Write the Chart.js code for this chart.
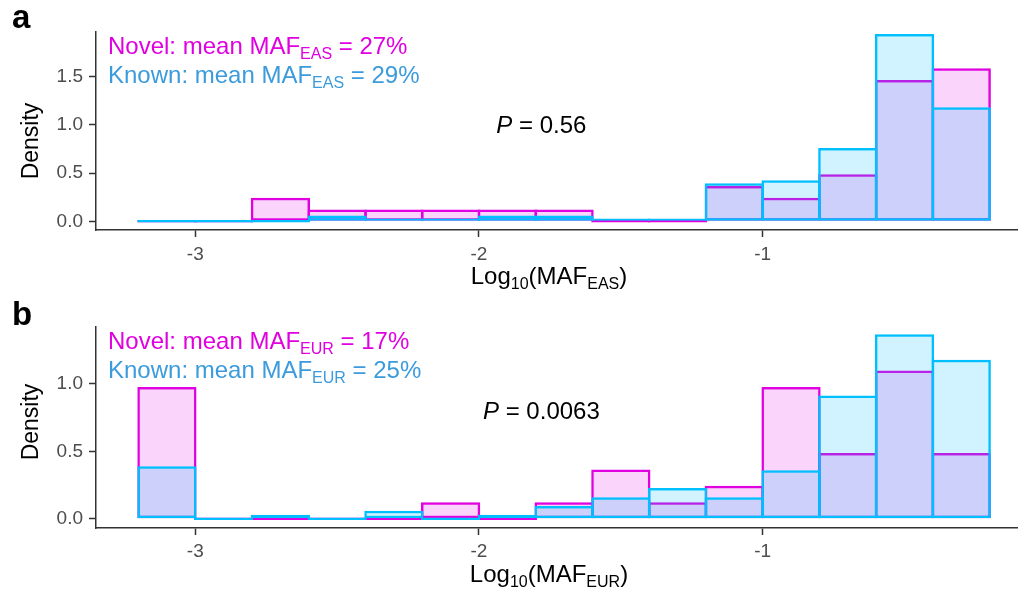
<!DOCTYPE html>
<html>
<head>
<meta charset="utf-8">
<script src="https://cdn.jsdelivr.net/npm/chart.js@4/dist/chart.umd.min.js"></script>
<style>
    body { margin: 0; background: #fff; overflow: hidden; }
    .panel { position: absolute; left: 0; width: 1018px; height: 295px; }
</style>
</head>
<body>
<div class="panel" style="top:0"><canvas id="panelA" width="1018" height="295"></canvas></div>
<div class="panel" style="top:295px"><canvas id="panelB" width="1018" height="295"></canvas></div>
<script>
// Histogram bins of log10(MAF), width 0.2, given by their centres.
var binCenters = [-3.1, -2.9, -2.7, -2.5, -2.3, -2.1, -1.9, -1.7, -1.5, -1.3, -1.1, -0.9, -0.7, -0.5, -0.3];

// Panel a: EAS densities
var novelEAS = [0, 0, 0.244, 0.122, 0.122, 0.122, 0.122, 0.122, 0, 0, 0.366, 0.244, 0.488, 1.463, 1.585];
var knownEAS = [0, 0, 0, 0.06, 0.03, 0.03, 0.06, 0.06, 0.03, 0.03, 0.394, 0.424, 0.758, 1.939, 1.182];

// Panel b: EUR densities
var novelEUR = [0.976, 0, 0, 0, 0, 0.122, 0, 0.122, 0.366, 0.122, 0.244, 0.976, 0.488, 1.098, 0.488];
var knownEUR = [0.39, 0, 0.03, 0, 0.06, 0, 0.03, 0.095, 0.16, 0.228, 0.16, 0.36, 0.912, 1.366, 1.178];

var xTicks = [-3, -2, -1];
var yTicksEAS = [0, 0.5, 1, 1.5];
var yTicksEUR = [0, 0.5, 1];

var FONT = "'Liberation Sans', Arial, sans-serif";
var NOVEL_COLOR = "#E000E0";
var KNOWN_COLOR = "#00BFFF";
var KNOWN_TEXT = "#3B9BDC";
var BAR_LINE = 2.5;

function toPoints(values) {
    // Pair every density with the centre of its bin.
    var points = [];
    for (var i = 0; i < values.length; i++) {
        points.push({ x: binCenters[i], y: values[i] });
    }
    return points;
}

function histDataset(values, stroke, fill, order) {
    return {
        data: toPoints(values),
        backgroundColor: fill,
        borderColor: stroke,
        borderWidth: BAR_LINE,
        borderSkipped: false,
        grouped: false,
        categoryPercentage: 1,
        // a bit wider than the bin so neighbouring outlines fall on one line
        barPercentage: 1.044,
        minBarLength: 2.5,
        inflateAmount: 0,
        order: order
    };
}

function runFont(run, size) {
    var px = run.sub ? Math.round(size * 0.67) : size;
    return (run.it ? "italic " : "") + px + "px " + FONT;
}

function runsWidth(ctx, runs, size) {
    var w = 0;
    for (var i = 0; i < runs.length; i++) {
        ctx.font = runFont(runs[i], size);
        w += ctx.measureText(runs[i].t).width;
    }
    return w;
}

function drawRuns(ctx, runs, x, y, size, color) {
    // Draw text pieces left to right on one baseline, lowering subscripts.
    var cx = x;
    ctx.fillStyle = color;
    ctx.textAlign = "left";
    ctx.textBaseline = "alphabetic";
    for (var i = 0; i < runs.length; i++) {
        ctx.font = runFont(runs[i], size);
        ctx.fillText(runs[i].t, cx, runs[i].sub ? y + size * 0.21 : y);
        cx += ctx.measureText(runs[i].t).width;
    }
}

function panelTextPlugin(cfg) {
    return {
        id: "panelText",
        afterDraw: function (chart) {
            var ctx = chart.ctx;
            var area = chart.chartArea;
            var x = chart.scales.x;
            var y = chart.scales.y;
            ctx.save();

            // panel letter
            ctx.fillStyle = "#000";
            ctx.font = "bold 33px " + FONT;
            ctx.textAlign = "left";
            ctx.textBaseline = "alphabetic";
            ctx.fillText(cfg.letter, 12, cfg.letterBaseline);

            // y axis title
            ctx.save();
            ctx.translate(37.5, cfg.yTitleCenter);
            ctx.rotate(-Math.PI / 2);
            ctx.font = "23px " + FONT;
            ctx.textAlign = "center";
            ctx.fillText("Density", 0, 0);
            ctx.restore();

            // x axis title with subscripts
            var xTitle = [{ t: "Log" }, { t: "10", sub: true }, { t: "(MAF" }, { t: cfg.pop, sub: true }, { t: ")" }];
            var w = runsWidth(ctx, xTitle, 24);
            drawRuns(ctx, xTitle, area.left + 453 - w / 2, area.bottom + 53.5, 24, "#000");

            // group means
            drawRuns(ctx, [{ t: "Novel: mean MAF" }, { t: cfg.pop, sub: true }, { t: " = " + cfg.novelMean }],
                area.left + 12, area.top + 22, 24, NOVEL_COLOR);
            drawRuns(ctx, [{ t: "Known: mean MAF" }, { t: cfg.pop, sub: true }, { t: " = " + cfg.knownMean }],
                area.left + 12, area.top + 51, 24, KNOWN_TEXT);

            // test P value
            var pText = [{ t: "P", it: true }, { t: " = " + cfg.pValue }];
            var pw = runsWidth(ctx, pText, 24);
            drawRuns(ctx, pText, x.getPixelForValue(cfg.pX) - pw / 2, y.getPixelForValue(cfg.pY) + 8.5, 24, "#000");

            ctx.restore();
        }
    };
}

function createPanel(canvasId, cfg) {
    var canvas = document.getElementById(canvasId);
    new Chart(canvas, {
        type: "bar",
        data: {
            datasets: [
                histDataset(cfg.novel, NOVEL_COLOR, "rgba(225, 0, 225, 0.17)", 1),
                histDataset(cfg.known, KNOWN_COLOR, "rgba(0, 191, 255, 0.18)", 0)
            ]
        },
        options: {
            responsive: false,
            animation: false,
            devicePixelRatio: 1,
            layout: { padding: { top: 32, left: 0, right: 0, bottom: 0 } },
            plugins: {
                legend: { display: false },
                tooltip: { enabled: false }
            },
            scales: {
                x: {
                    type: "linear",
                    min: -3.35,
                    max: -0.1,
                    offset: false,
                    afterBuildTicks: function (scale) {
                        scale.ticks = xTicks.map(function (v) { return { value: v }; });
                    },
                    afterFit: function (scale) { scale.height = cfg.xAxisHeight; },
                    grid: { offset: false, drawOnChartArea: false, drawTicks: true, tickLength: 7, tickColor: "#333", tickWidth: 1.5 },
                    border: { display: true, color: "#333", width: 1.5 },
                    ticks: {
                        color: "#4D4D4D",
                        font: { family: FONT, size: 19 },
                        padding: cfg.xTickPad,
                        maxRotation: 0,
                        autoSkip: false,
                        callback: function (v) { return String(v); }
                    }
                },
                y: {
                    min: cfg.yMin,
                    max: cfg.yMax,
                    afterBuildTicks: function (scale) {
                        scale.ticks = cfg.yTicks.map(function (v) { return { value: v }; });
                    },
                    afterFit: function (scale) { scale.width = 96; },
                    grid: { drawOnChartArea: false, drawTicks: true, tickLength: 7, tickColor: "#333", tickWidth: 1.5 },
                    border: { display: true, color: "#333", width: 1.5 },
                    ticks: {
                        color: "#4D4D4D",
                        font: { family: FONT, size: 19 },
                        padding: 6,
                        callback: function (v) { return Number(v).toFixed(1); }
                    }
                }
            }
        },
        plugins: [panelTextPlugin(cfg)]
    });
}

createPanel("panelA", {
    novel: novelEAS,
    known: knownEAS,
    yTicks: yTicksEAS,
    yMin: -0.09,
    yMax: 1.96,
    xAxisHeight: 65,
    xTickPad: 6,
    letter: "a",
    letterBaseline: 28,
    yTitleCenter: 141,
    pop: "EAS",
    novelMean: "27%",
    knownMean: "29%",
    pValue: "0.56",
    pX: -1.78,
    pY: 1.0
});

createPanel("panelB", {
    novel: novelEUR,
    known: knownEUR,
    yTicks: yTicksEUR,
    yMin: -0.068,
    yMax: 1.42,
    xAxisHeight: 62,
    xTickPad: 5,
    letter: "b",
    letterBaseline: 30,
    yTitleCenter: 127,
    pop: "EUR",
    novelMean: "17%",
    knownMean: "25%",
    pValue: "0.0063",
    pX: -1.78,
    pY: 0.8
});
</script>
</body>
</html>
